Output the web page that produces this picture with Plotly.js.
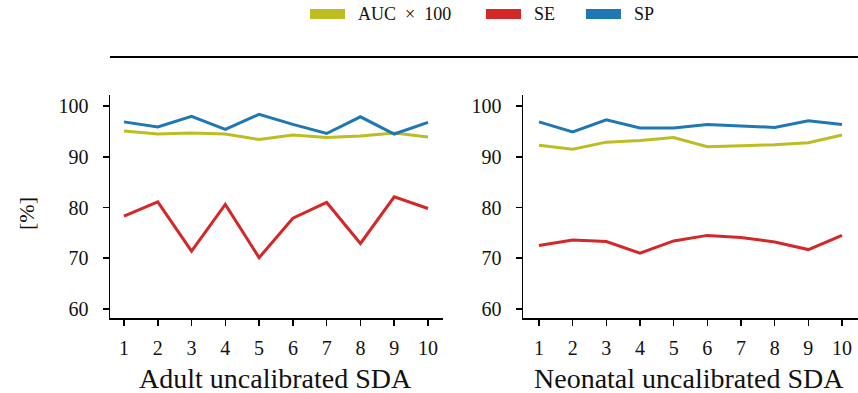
<!DOCTYPE html>
<html><head><meta charset="utf-8">
<script src="https://cdn.plot.ly/plotly-3.0.1.min.js"></script>
<style>html,body{margin:0;padding:0;background:#fff}</style>
</head><body><div id="chart" style="width:858px;height:393px"></div>
<script>
const runs = [1,2,3,4,5,6,7,8,9,10];
const adultAUC = [95.1,94.5,94.7,94.5,93.4,94.3,93.8,94.1,94.7,93.9];
const adultSE  = [78.3,81.1,71.4,80.6,70.1,77.9,81.0,72.9,82.1,79.8];
const adultSP  = [96.9,95.9,98.0,95.4,98.4,96.4,94.6,97.9,94.5,96.8];
const neoAUC = [92.3,91.5,92.9,93.2,93.8,92.0,92.2,92.4,92.8,94.3];
const neoSE  = [72.5,73.6,73.3,71.0,73.4,74.5,74.1,73.2,71.7,74.5];
const neoSP  = [96.9,94.9,97.3,95.7,95.7,96.4,96.1,95.8,97.1,96.4];
const seriesNames = ['AUC\u00a0\u00a0\u00d7\u00a0\u00a0100','SE','SP'];
const colors = ['#bcbd22','#d62728','#1f77b4'];
const titles = ['Adult uncalibrated SDA','Neonatal uncalibrated SDA'];
const yTicks = [60,70,80,90,100];

const FONT = 'Liberation Serif, Times New Roman, serif';
const W = 858, H = 393;
const traces = [];
[[adultAUC,adultSE,adultSP],[neoAUC,neoSE,neoSP]].forEach((set,p)=>{
  set.forEach((ys,i)=>{
    traces.push({x:runs,y:ys,type:'scatter',mode:'lines',name:seriesNames[i],
      line:{color:colors[i],width:3},xaxis:p?'x2':'x',yaxis:p?'y2':'y',showlegend:false,hoverinfo:'skip'});
  });
});

// legend drawn as patches + text (figure-level legend above both panels)
const legendPatchX = [310, 486, 586];
const shapes = [{type:'line',xref:'paper',yref:'paper',x0:110/W,x1:1,y0:1-57/H,y1:1-57/H,line:{color:'#000',width:2}}];
const annotations = [];
seriesNames.forEach((n,i)=>{
  const x0 = legendPatchX[i];
  shapes.push({type:'rect',xref:'paper',yref:'paper',x0:x0/W,x1:(x0+35)/W,y0:1-19/H,y1:1-9/H,
    fillcolor:colors[i],line:{width:0}});
  annotations.push({text:n,xref:'paper',yref:'paper',x:(x0+46)/W,y:1-14/H,xanchor:'left',yanchor:'middle',
    showarrow:false,font:{family:FONT,size:18,color:'#111'}});
});

const ax = {showgrid:false,zeroline:false,showline:true,linecolor:'#000',linewidth:1.5,
  ticks:'outside',ticklen:6,tickwidth:1.5,tickcolor:'#000',tickfont:{family:FONT,size:20,color:'#111'}};
annotations.push(
  {text:titles[0],xref:'paper',yref:'paper',x:275/W,y:1-378/H,xanchor:'center',yanchor:'middle',showarrow:false,font:{family:FONT,size:28,color:'#111'}},
  {text:titles[1],xref:'paper',yref:'paper',x:689/W,y:1-378/H,xanchor:'center',yanchor:'middle',showarrow:false,font:{family:FONT,size:28,color:'#111'}},
  {text:'[%]',xref:'paper',yref:'paper',x:26/W,y:1-214/H,xanchor:'center',yanchor:'middle',textangle:-90,showarrow:false,font:{family:FONT,size:22,color:'#111'}}
);
const layout = {
  width:W,height:H,margin:{l:0,r:0,t:0,b:0},paper_bgcolor:'#fff',plot_bgcolor:'#fff',
  font:{family:FONT,color:'#111'},showlegend:false,
  xaxis:Object.assign({},ax,{domain:[110/W,443/W],range:[0.586,10.444],tickvals:runs,anchor:'y',ticklabelstandoff:5}),
  yaxis:Object.assign({},ax,{domain:[1-318/H,1-95/H],range:[58.2,102.2],tickvals:yTicks,anchor:'x',ticklabelstandoff:10}),
  xaxis2:Object.assign({},ax,{domain:[523/W,1],range:[0.525,10.475],tickvals:runs,anchor:'y2',ticklabelstandoff:5}),
  yaxis2:Object.assign({},ax,{domain:[1-318/H,1-95/H],range:[58.2,102.2],tickvals:yTicks,anchor:'x2',ticklabelstandoff:10}),
  shapes:shapes, annotations:annotations
};
Plotly.newPlot('chart',traces,layout,{staticPlot:true});
</script></body></html>
